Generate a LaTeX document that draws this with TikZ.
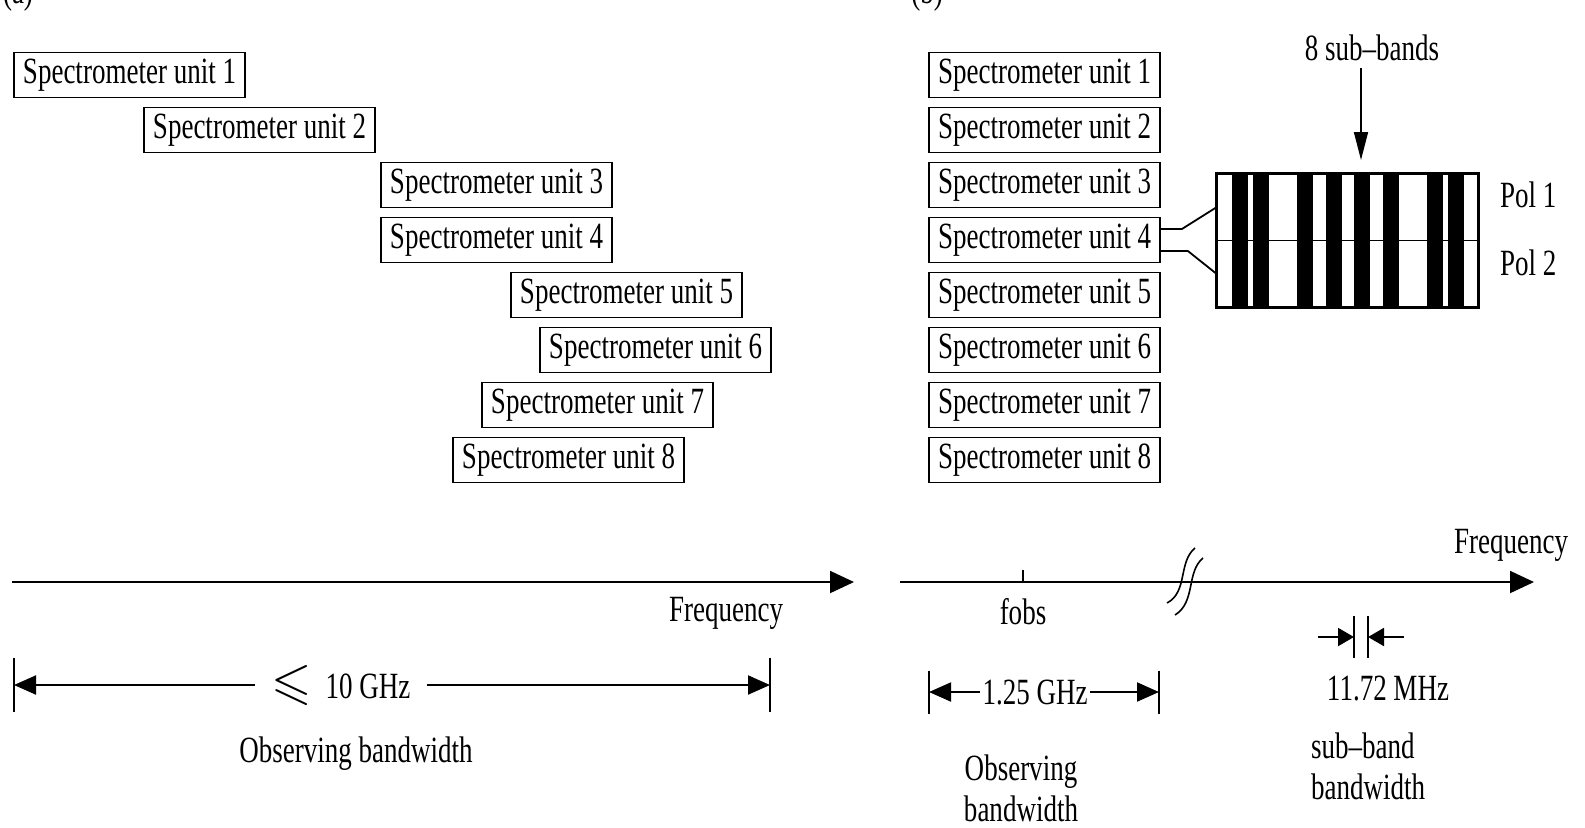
\documentclass[tikz,border=0pt]{standalone}
\usepackage{fontspec}
\setmainfont{Liberation Serif}[FakeStretch=0.73]
\usepackage{amssymb}
\usetikzlibrary{arrows.meta,positioning}

\begin{document}
\begin{tikzpicture}[x=0.5pt, y=-0.5pt, node distance=4.1pt,
  every node/.style={font=\fontsize{18.5}{20.5}\selectfont},
  unitbox/.style={draw, line width=0.9pt, minimum width=115.5pt, minimum height=22.5pt, inner sep=0pt},
  axis/.style={line width=1pt, -{Triangle[length=12pt, width=11pt]}},
  dim/.style={line width=1pt, -{Triangle[length=11pt, width=9.5pt]}},
  dimsm/.style={line width=1pt, -{Triangle[length=8pt, width=9pt]}},
  tick/.style={line width=0.6pt}]
\useasboundingbox (0,0) rectangle (1585,827);

% panel labels, cut off at the top
\node[anchor=base] (pa) at (18,3) {(a)};
\node[anchor=base] (pb) at (927,3) {(b)};

% (a) units spread over the band
\foreach \xc [count=\i] in {129.5,259.5,496.5,496.5,626.5,655.5,597.5,568.5}
  \node[unitbox] (l\i) at (\xc,{75+55*(\i-1)}) {Spectrometer unit \i};

% (b) units stacked on one band
\node[unitbox] (r1) at (1044.5,75) {Spectrometer unit 1};
\foreach \i [count=\j] in {2,...,8}
  \node[unitbox, below=of r\j] (r\i) {Spectrometer unit \i};

% sub-band box
\node[draw, line width=0.9pt, minimum width=130.5pt, minimum height=66.5pt, inner sep=0pt] (sb) at (1347.5,240.5) {};
\draw[line width=0.8pt] (sb.west) -- (sb.east);
\foreach \sx in {1232,1253,1297,1326,1354,1383,1427,1448}
  \fill (\sx,174) rectangle ++(16,133);
\draw[line width=0.9pt] (sb.south west) rectangle (sb.north east);
\draw[line width=0.9pt] ([yshift=5.5pt]r4.east) -- ++(10.5pt,0) -- ([yshift=16.5pt]sb.west);
\draw[line width=0.9pt] ([yshift=-5.5pt]r4.east) -- ++(13.5pt,0) -- ([yshift=-16.5pt]sb.west);
\node[anchor=west] (p1) at (1493,195) {Pol 1};
\node[anchor=west] (p2) at (1493,263) {Pol 2};
\node (nsb) at (1372,48) {8 sub--bands};
\coordinate (sbtip) at (1361,160);
\draw[line width=0.8pt, -{Triangle[length=14pt, width=7pt]}] (nsb.south -| sbtip) -- (sbtip);

% (a) frequency axis
\coordinate (a0) at (12,582);
\coordinate (a1) at (854,582);
\draw[axis] (a0) -- (a1);
\node (fa) at (726,613) {Frequency};
\coordinate (d0) at (14,685);
\coordinate (d1) at (770,685);
\draw[tick] ([yshift=13.5pt]d0) -- ([yshift=-13.5pt]d0);
\draw[tick] ([yshift=13.5pt]d1) -- ([yshift=-13.5pt]d1);
\node[inner sep=8pt] (g10) at (341,685) {{\fontsize{26}{26}\selectfont$\leqslant$}\ \ 10 GHz};
\draw[dim] (g10.west) -- (d0);
\draw[dim] (g10.east) -- (d1);
\node (ob) at (356,754) {Observing bandwidth};

% (b) frequency axis
\coordinate (b0) at (900,582);
\coordinate (b1) at (1534,582);
\draw[axis] (b0) -- (b1);
\coordinate (fobs) at (1023,582);
\draw[tick] (fobs) -- ++(0,6pt);
\node (nf) at (1023,612) {fobs};
\node (fb) at (1511,545) {Frequency};
\draw[line width=0.8pt] (1195,548) .. controls (1178,562) and (1188,592) .. (1167,603);
\draw[line width=0.8pt] (1203,558) .. controls (1186,572) and (1196,602) .. (1175,615);
\coordinate (e0) at (929,692);
\coordinate (e1) at (1159,692);
\draw[tick] ([yshift=10.75pt]e0) -- ([yshift=-10.75pt]e0);
\draw[tick] ([yshift=10.75pt]e1) -- ([yshift=-10.75pt]e1);
\node[inner sep=1pt] (g125) at (1035,692) {1.25 GHz};
\draw[dim] (g125.west) -- (e0);
\draw[dim] (g125.east) -- (e1);
\node[align=center] (ob2) at (1021,788) {Observing\\bandwidth};
\coordinate (s0) at (1354,637);
\coordinate (s1) at (1368,637);
\draw[tick] ([yshift=10.5pt]s0) -- ([yshift=-10.5pt]s0);
\draw[tick] ([yshift=10.5pt]s1) -- ([yshift=-10.5pt]s1);
\draw[dimsm] ([xshift=-18pt]s0) -- (s0);
\draw[dimsm] ([xshift=18pt]s1) -- (s1);
\node (mhz) at (1388,688) {11.72 MHz};
\node[align=left, anchor=west] (sbw) at (1304,766) {sub--band\\bandwidth};
\end{tikzpicture}
\end{document}
